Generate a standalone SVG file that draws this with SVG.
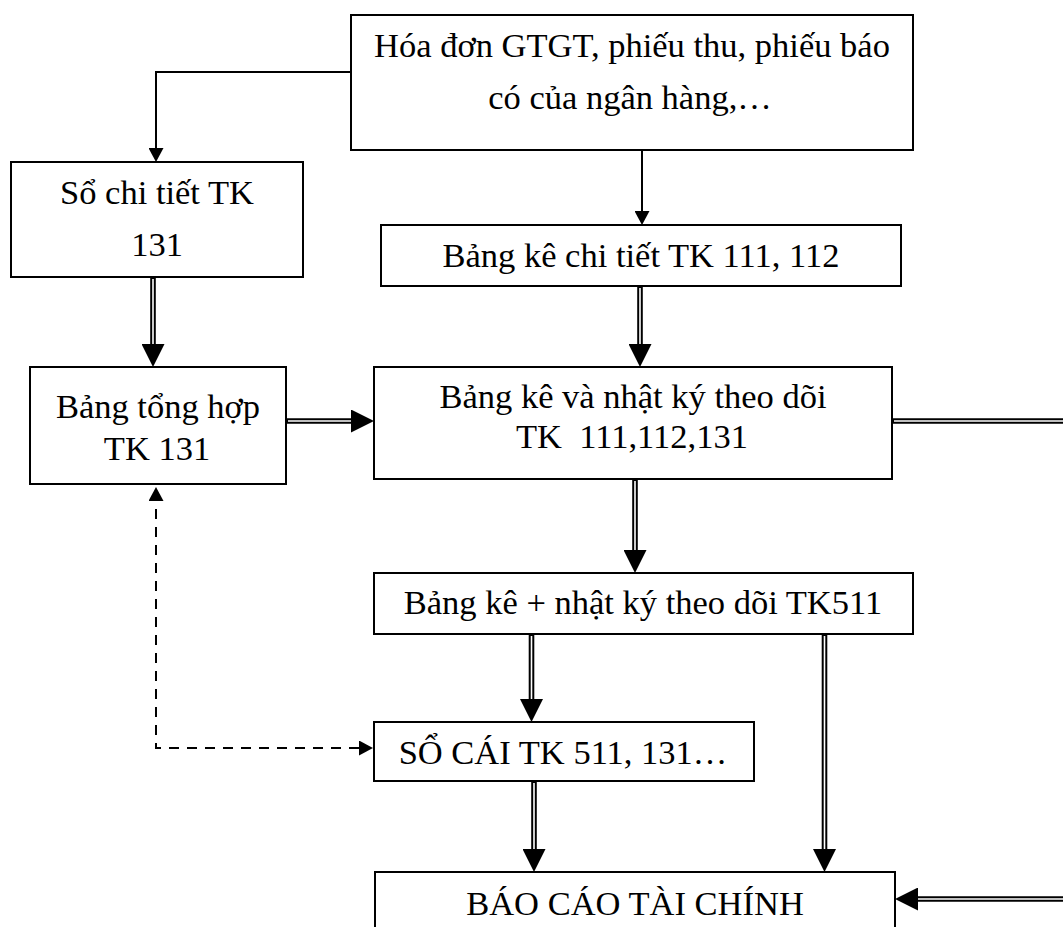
<svg xmlns="http://www.w3.org/2000/svg" width="1063" height="927" viewBox="0 0 1063 927">
<style>
.box{fill:#fff;stroke:#000;stroke-width:2}
.t{font-family:"Liberation Serif","Times New Roman",serif;font-size:34.5px;fill:#000;text-anchor:middle;white-space:pre}
.single{fill:none;stroke:#000;stroke-width:2}
.dash{fill:none;stroke:#000;stroke-width:2;stroke-dasharray:10 8}
.dblo{fill:none;stroke:#000;stroke-width:5.6}
.dbli{fill:none;stroke:#fff;stroke-width:1.6}
</style>
<defs>
<marker id="arr" viewBox="0 0 14 15" refX="0" refY="7.5" markerWidth="14" markerHeight="15" markerUnits="userSpaceOnUse" orient="auto-start-reverse">
<path d="M0,0 L14,7.5 L0,15 z" fill="#000"/>
</marker>
<marker id="big" viewBox="0 0 23 23" refX="0" refY="11.5" markerWidth="23" markerHeight="23" markerUnits="userSpaceOnUse" orient="auto">
<path d="M0,0 L23,11.5 L0,23 z" fill="#000"/>
</marker>
</defs>
<rect width="1063" height="927" fill="#fff"/>
<g id="connectors">
<path class="single" d="M350,72 H156 V148" marker-end="url(#arr)"/>
<path class="single" d="M642,151 V211" marker-end="url(#arr)"/>
<path class="dash" d="M359,748 H156 V501" marker-start="url(#arr)" marker-end="url(#arr)"/>
<g id="double-lines">
<path class="dblo" d="M153,278 V344" marker-end="url(#big)"/>
<path class="dbli" d="M153,279 V344"/>
<path class="dblo" d="M640,287 V344" marker-end="url(#big)"/>
<path class="dbli" d="M640,288 V344"/>
<path class="dblo" d="M287,421 H351" marker-end="url(#big)"/>
<path class="dbli" d="M288,421 H351"/>
<path class="dblo" d="M893,421 H1064"/>
<path class="dbli" d="M894,421 H1064"/>
<path class="dblo" d="M635,480 V550" marker-end="url(#big)"/>
<path class="dbli" d="M635,481 V550"/>
<path class="dblo" d="M531.5,635 V699" marker-end="url(#big)"/>
<path class="dbli" d="M531.5,636 V699"/>
<path class="dblo" d="M824.5,635 V849" marker-end="url(#big)"/>
<path class="dbli" d="M824.5,636 V849"/>
<path class="dblo" d="M534,782 V849" marker-end="url(#big)"/>
<path class="dbli" d="M534,783 V849"/>
<path class="dblo" d="M1064,899 H918" marker-end="url(#big)"/>
<path class="dbli" d="M1064,899 H918"/>
</g>
</g>
<g id="n1">
<rect class="box" x="351" y="15" width="562" height="135"/>
<text class="t" x="632" y="57">Hóa đơn GTGT, phiếu thu, phiếu báo</text>
<text class="t" x="630" y="109">có của ngân hàng,…</text>
</g>
<g id="n2">
<rect class="box" x="11" y="162" width="292" height="115"/>
<text class="t" x="157" y="204">Sổ chi tiết TK</text>
<text class="t" x="157" y="256">131</text>
</g>
<g id="n3">
<rect class="box" x="30" y="367" width="256" height="117"/>
<text class="t" x="158" y="418">Bảng tổng hợp</text>
<text class="t" x="157" y="460">TK 131</text>
</g>
<g id="n4">
<rect class="box" x="381" y="225" width="520" height="61"/>
<text class="t" x="641" y="267">Bảng kê chi tiết TK 111, 112</text>
</g>
<g id="n5">
<rect class="box" x="374" y="367" width="518" height="112"/>
<text class="t" x="633" y="408">Bảng kê và nhật ký theo dõi</text>
<text class="t" x="632" y="448">TK  111,112,131</text>
</g>
<g id="n6">
<rect class="box" x="374" y="573" width="539" height="61"/>
<text class="t" x="643" y="614">Bảng kê + nhật ký theo dõi TK511</text>
</g>
<g id="n7">
<rect class="box" x="374" y="722" width="380" height="59"/>
<text class="t" x="563" y="764">SỔ CÁI TK 511, 131…</text>
</g>
<g id="n8">
<rect class="box" x="375" y="872" width="520" height="70"/>
<text class="t" x="635" y="915">BÁO CÁO TÀI CHÍNH</text>
</g>
</svg>
